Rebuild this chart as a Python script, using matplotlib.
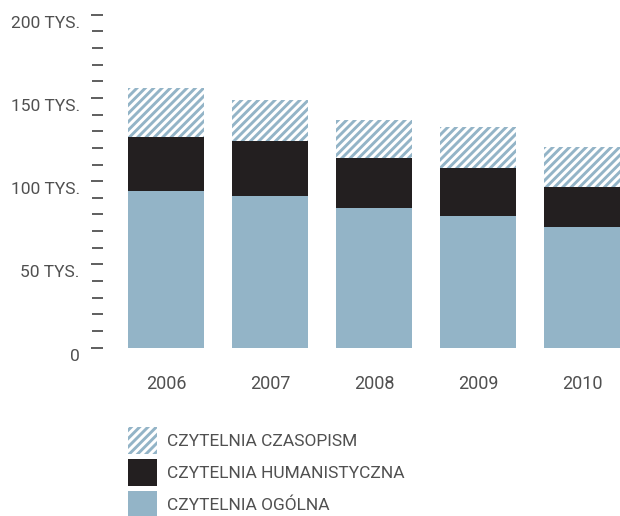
from matplotlib import pyplot as plt
from matplotlib.patches import Patch
import matplotlib.transforms as mtransforms
import numpy as np

plt.rcParams['font.family'] = ['Roboto', 'DejaVu Sans']
plt.rcParams['hatch.linewidth'] = 2.1

years = ["2006", "2007", "2008", "2009", "2010"]
# thousands of visitors
ogolna = [94, 91, 84, 79, 72.5]
humanistyczna = [32.5, 33, 30, 29, 24]
czasopism = [29.5, 24.5, 23, 24.5, 24]

y_ticks = [0, 50, 100, 150, 200]
y_labels = ["0", "50 TYS.", "100 TYS.", "150 TYS.", "200 TYS."]

blue = '#93b4c7'
black = '#231f20'
text_col = '#505050'

fig = plt.figure(figsize=(6.2, 5.16), dpi=100)
ax = fig.add_axes([0.166, 0.3262, 0.834, 0.6453])

x = np.arange(len(years))
w = 0.73
bottom2 = np.array(ogolna)
bottom3 = bottom2 + np.array(humanistyczna)

ax.bar(x, ogolna, w, color=blue, linewidth=0)
ax.bar(x, humanistyczna, w, bottom=bottom2, color=black, linewidth=0)
ax.bar(x, czasopism, w, bottom=bottom3, color='white', edgecolor=blue,
       hatch='////', linewidth=0)

ax.set_xlim(-0.606, 4.365)
ax.set_ylim(0, 200)

for s in ax.spines.values():
    s.set_visible(False)

ax.set_yticks(y_ticks)
ax.set_yticklabels(y_labels, fontsize=12.5, color=text_col)
ax.set_yticks(np.arange(0, 201, 10), minor=True)
ax.tick_params(axis='y', which='both', direction='out', length=8.6,
               width=1.1, color='#333333', pad=8)
ax.tick_params(axis='y', which='minor', length=8)

# labels sit a bit lower than their ticks
offset = mtransforms.ScaledTranslation(0, -5 / 72, fig.dpi_scale_trans)
for lab in ax.get_yticklabels():
    lab.set_transform(lab.get_transform() + offset)

ax.set_xticks(x)
ax.set_xticklabels(years, fontsize=13, color=text_col)
ax.tick_params(axis='x', length=0, pad=20)

handles = [Patch(facecolor='white', edgecolor=blue, hatch='////', linewidth=0),
           Patch(facecolor=black, linewidth=0),
           Patch(facecolor=blue, linewidth=0)]
labels = ["CZYTELNIA CZASOPISM", "CZYTELNIA HUMANISTYCZNA", "CZYTELNIA OGÓLNA"]
leg = fig.legend(handles, labels, loc='upper left',
                 bbox_to_anchor=(128 / 620, 1 - 427 / 516),
                 frameon=False, fontsize=12.5, borderpad=0, borderaxespad=0,
                 handlelength=1.65, handleheight=2.0, labelspacing=0.3,
                 handletextpad=0.6)
for t in leg.get_texts():
    t.set_color(text_col)

plt.savefig('out.png', dpi=100)
